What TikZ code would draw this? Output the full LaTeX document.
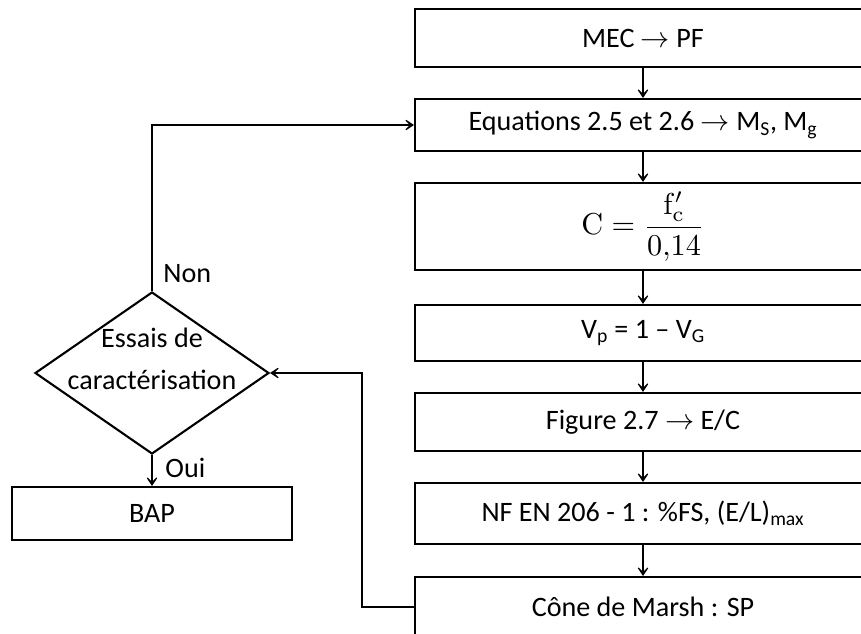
\documentclass[tikz,border=0pt]{standalone}
\usepackage[no-math]{fontspec}
\setmainfont{Carlito}
\usepackage{graphicx}
\usetikzlibrary{shapes.geometric,arrows.meta}
\begin{document}
\begin{tikzpicture}[
        font=\fontsize{20}{24}\selectfont,
        box/.style={draw, line width=1.5pt, minimum width=11.4cm, inner sep=0pt},
        arr/.style={line width=1.1pt, -{Stealth[length=3mm, width=4mm, inset=2mm]}}
    ]
        \useasboundingbox[fill=white] (0,0) rectangle (21.525,-15.85);
        \node[box, minimum height=1.45cm] (mec) at (16.075,-0.95) {MEC $\rightarrow$ PF};
        \node[box, minimum height=1.3cm] (eqs) at (16.075,-3.125) {Equations 2.5 et 2.6 $\rightarrow$ M\textsubscript{S}, M\textsubscript{g}};
        \node[box, minimum height=2.175cm] (ciment) at (16.075,-5.6625) {\scalebox{2.15}{\normalsize $\mathrm{C}=\displaystyle\frac{\mathrm{f}'_{\mathrm{c}}}{0{,}14}$}};
        \node[box, minimum height=1.4cm] (vp) at (16.075,-8.325) {V\textsubscript{p} = 1 -- V\textsubscript{G}};
        \node[box, minimum height=1.45cm] (fig) at (16.075,-10.55) {Figure 2.7 $\rightarrow$ E/C};
        \node[box, minimum height=1.525cm] (norme) at (16.075,-12.8375) {NF EN 206 - 1 : \%FS, (E/L)\textsubscript{max}};
        \node[box, minimum height=1.5cm, anchor=north] (marsh) at (16.075,-14.4) {Cône de Marsh : SP};
        \node[draw, diamond, line width=1.5pt, minimum width=5.85cm, minimum height=4.05cm, inner sep=0pt] (essai) at (3.8,-9.325) {};
        \node[align=center, font=\fontsize{20}{30}\selectfont] (essaitxt) at ([yshift=0.35cm]essai.center) {Essais de\\caractérisation};
        \node[draw, line width=1.5pt, minimum width=7cm, minimum height=1.325cm] (bap) at (3.8,-12.8375) {BAP};
        \draw[arr] (mec) -- (eqs);
        \draw[arr] (eqs) -- (ciment);
        \draw[arr] (ciment) -- (vp);
        \draw[arr] (vp) -- (fig);
        \draw[arr] (fig) -- (norme);
        \draw[arr] (norme) -- (marsh);
        \draw[arr] (marsh.west) -- ++(-1.3,0) |- (essai.east);
        \draw[arr] (essai.north) |- (eqs.west) node[pos=0, anchor=base west, xshift=0.15cm, yshift=0.22cm] (non) {Non};
        \draw[arr] (essai.south) -- (bap.north) node[pos=0, anchor=base west, xshift=0.2cm, yshift=-0.55cm] (oui) {Oui};
    \end{tikzpicture}
\end{document}
